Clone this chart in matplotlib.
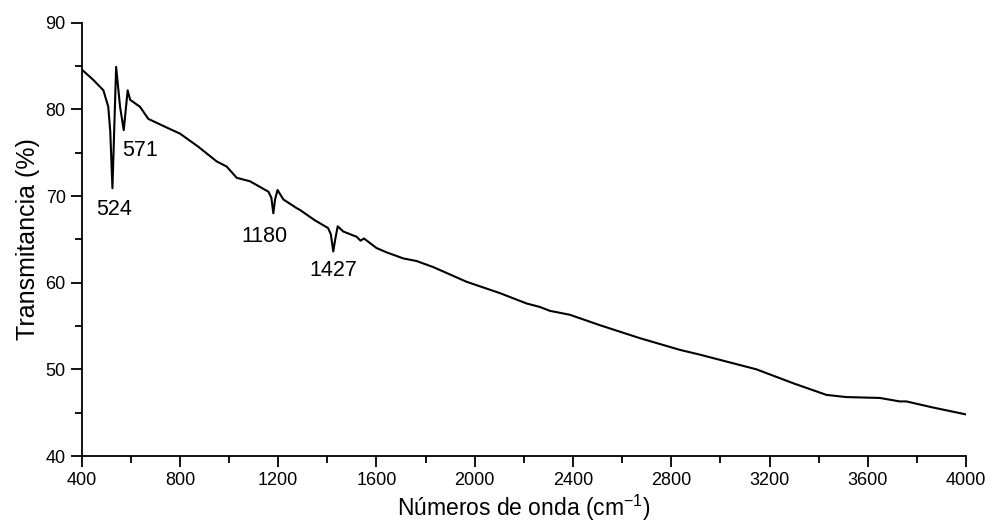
import numpy as np
import matplotlib.pyplot as plt
from matplotlib.ticker import MultipleLocator

plt.rcParams['font.family'] = ['Liberation Sans', 'DejaVu Sans']

# spectrum
wavenumber = [400, 447, 488, 508, 516, 525, 540, 556, 571, 587, 597, 637, 671, 746, 800,
              874, 949, 990, 1031, 1085, 1160, 1172, 1180, 1187, 1197, 1221, 1275,
              1288, 1349, 1403, 1414, 1424, 1432, 1442, 1465, 1519, 1535, 1549,
              1600, 1641, 1709, 1763, 1831, 1967, 2102, 2211, 2265, 2306, 2387,
              2509, 2672, 2835, 2916, 3079, 3147, 3296, 3432, 3513, 3649, 3730,
              3757, 3865, 4000]
transmit = [84.6, 83.4, 82.2, 80.3, 77.5, 70.9, 84.9, 80.3, 77.6, 82.2, 81.1, 80.3,
            78.9, 77.9, 77.2, 75.7, 74.0, 73.4, 72.1, 71.7, 70.5, 69.8, 68.0, 69.6,
            70.7, 69.6, 68.6, 68.4, 67.2, 66.3, 65.6, 63.6, 65.0, 66.5, 65.9, 65.3,
            64.85, 65.1, 64.0, 63.5, 62.8, 62.5, 61.8, 60.1, 58.8, 57.6, 57.2, 56.75,
            56.3, 55.1, 53.6, 52.25, 51.7, 50.5, 50.0, 48.4, 47.05, 46.8, 46.7, 46.3,
            46.3, 45.6, 44.8]

peak_labels = ['524', '571', '1180', '1427']
peak_x = [532, 637, 1143, 1423]
peak_y = [68.5, 75.2, 65.3, 61.4]

fig = plt.figure(figsize=(9.92, 5.25), dpi=100)
ax = fig.add_axes([0.0824, 0.1314, 0.8914, 0.8254])
ax.plot(wavenumber, transmit, color='black', lw=1.5)

for lab, px, py in zip(peak_labels, peak_x, peak_y):
    ax.text(px, py, lab, fontsize=15.5, ha='center', va='center')

ax.set_xlim(400, 4000)
ax.set_ylim(40, 90)
ax.xaxis.set_major_locator(MultipleLocator(400))
ax.xaxis.set_minor_locator(MultipleLocator(200))
ax.yaxis.set_major_locator(MultipleLocator(10))
ax.yaxis.set_minor_locator(MultipleLocator(5))
ax.spines['top'].set_visible(False)
ax.spines['right'].set_visible(False)
ax.spines['left'].set_linewidth(1.3)
ax.spines['bottom'].set_linewidth(1.3)
ax.tick_params(which='major', direction='out', length=8, width=1.3, labelsize=13)
ax.tick_params(which='minor', direction='out', length=5, width=1.3)

ax.set_xlabel('Números de onda (cm$^{\\mathregular{-1}}$)', fontsize=16.5, labelpad=3)
ax.set_ylabel('Transmitancia (%)', fontsize=18, labelpad=4)

fig.savefig('out.png', dpi=100)
